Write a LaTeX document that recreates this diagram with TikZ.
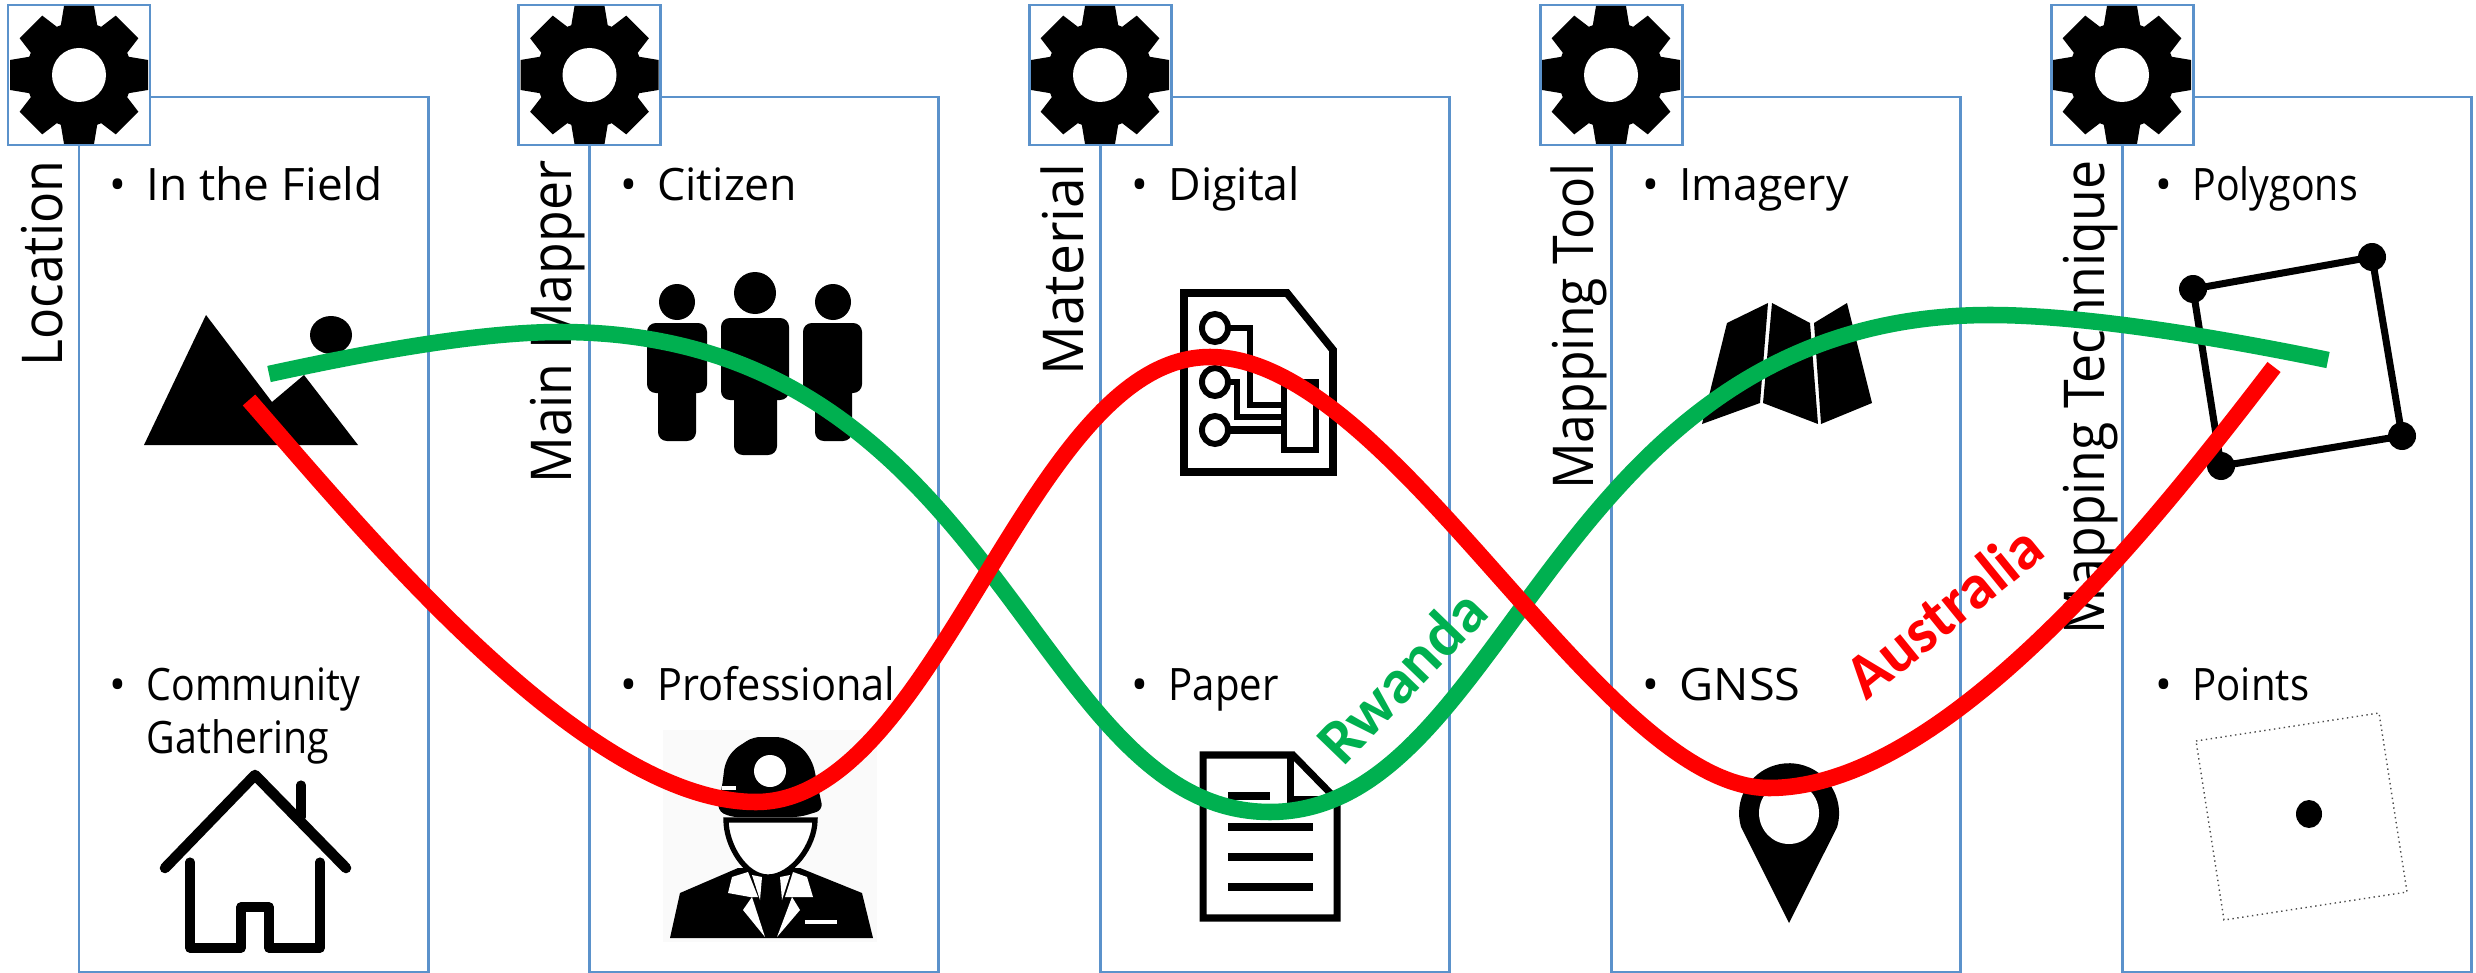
\documentclass[tikz,border=0pt]{standalone}
\usepackage{graphicx}
\usepackage{fontspec}
\setmainfont{Open Sans}
\newfontfamily\curvefont{Carlito}
\usepackage{xcolor}
\definecolor{frame_blue}{HTML}{5B92CB}
\definecolor{curve_red}{HTML}{FF0000}
\definecolor{curve_green}{HTML}{00B050}
\newcommand{\bulleted}[2]{\makebox[10.6pt][l]{\textbullet}\scalebox{#1}[1]{#2}}
\newcommand{\columnframe}[1]{%
	\begin{scope}[shift={(#1, 0)}]
		\draw[frame] (0, 97) rectangle (349, 972);
		\draw[frame, fill=white] (-71, 5) rectangle (71, 145);
		\foreach \ang in {0, 90, 180, 270} {
			\fill[rotate around={\ang:(0, 75)}] (-19, 30) -- (-15, 6) -- (15, 6) -- (19, 30) -- cycle;
		}
		\foreach \ang in {45, 135, 225, 315} {
			\fill[rotate around={\ang:(0, 75)}] (-19, 30) -- (-16, 7) -- (16, 7) -- (19, 30) -- cycle;
		}
		\fill (0, 75) circle[radius=53];
		\fill[white] (0, 75) circle[radius=27];
	\end{scope}}
\tikzset{
	frame/.style={draw=frame_blue, line width=0.85pt},
	itemlabel/.style={anchor=base west, inner sep=0pt, font=\fontsize{12.7}{15}\selectfont},
	sidelabel/.style={anchor=base east, rotate=90, inner sep=0pt, font=\fontsize{16}{19}\selectfont},
	curvelabel/.style={anchor=base west, inner sep=0pt, font=\curvefont\bfseries\fontsize{18}{21}\selectfont},
	thinicon/.style={line cap=round, line join=round},
	fatcurve/.style={line width=4.7pt},
}

\begin{document}
\begin{tikzpicture}[x=0.01cm, y=-0.01cm]
	\useasboundingbox (0, 0) rectangle (2476, 973);
	% columns
	\columnframe{79}
	\columnframe{589.5}
	\columnframe{1100}
	\columnframe{1611}
	\columnframe{2122}
	% side titles
	\node[sidelabel] (location) at (62, 160) {\scalebox{0.92}[1]{Location}};
	\node[sidelabel] (mainmapper) at (571, 160) {\scalebox{0.92}[1]{Main Mapper}};
	\node[sidelabel] (material) at (1083, 163) {\scalebox{0.98}[1]{Material}};
	\node[sidelabel] (mappingtool) at (1593, 163) {\scalebox{0.92}[1]{Mapping Tool}};
	\node[sidelabel] (mappingtechnique) at (2104, 160) {\scalebox{0.92}[1]{Mapping Technique}};
	% items
	\node[itemlabel] (field) at (108.5, 200) {\bulleted{1.03}{In the Field}};
	\node[itemlabel] (community) at (108.5, 700) {\bulleted{0.88}{Community}};
	\node[itemlabel] (gathering) at (146, 753) {\scalebox{0.88}[1]{Gathering}};
	\node[itemlabel] (citizen) at (619.5, 200) {\bulleted{1}{Citizen}};
	\node[itemlabel] (professional) at (619.5, 700) {\bulleted{0.93}{Professional}};
	\node[itemlabel] (digital) at (1130.5, 200) {\bulleted{1}{Digital}};
	\node[itemlabel] (paper) at (1130.5, 700) {\bulleted{0.9}{Paper}};
	\node[itemlabel] (imagery) at (1641.5, 200) {\bulleted{1}{Imagery}};
	\node[itemlabel] (gnss) at (1641.5, 700) {\bulleted{1.05}{GNSS}};
	\node[itemlabel] (polygons) at (2154.5, 200) {\bulleted{0.88}{Polygons}};
	\node[itemlabel] (points) at (2154.5, 700) {\bulleted{0.9}{Points}};
	% mountain
	\fill (206, 315) -- (272, 402) -- (304, 375) -- (358, 445) -- (144, 445) -- cycle;
	\fill (331, 335) ellipse[x radius=21, y radius=19];
	% house
	\draw[thinicon, line width=3pt] (165, 868) -- (255, 775) -- (346, 868);
	\draw[thinicon, line width=2.6pt] (301, 785) -- (301, 817);
	\draw[thinicon, line width=2.6pt] (190, 862) -- (190, 948) -- (241, 948) -- (241, 907) -- (269, 907) -- (269, 948) -- (320, 948) -- (320, 862);
	% people
	\fill (677, 302) circle[radius=18];
	\fill[rounded corners=2.5pt] (647, 323) rectangle (707, 393);
	\fill[rounded corners=2.5pt] (658, 380) rectangle (696, 441);
	\fill (755, 293) circle[radius=21];
	\fill[rounded corners=2.5pt] (721, 318) rectangle (789, 400);
	\fill[rounded corners=2.5pt] (734, 385) rectangle (777, 455);
	\fill (833, 302) circle[radius=18];
	\fill[rounded corners=2.5pt] (803, 323) rectangle (862, 393);
	\fill[rounded corners=2.5pt] (815, 380) rectangle (852, 441);
	% worker
	\fill[black!2] (663, 730) rectangle (877, 942);
	\fill (670, 938) -- (680, 893) -- (738, 868) -- (800, 868) -- (862, 893) -- (873, 938) -- cycle;
	\filldraw[fill=white, line width=1.5pt] (726, 820) .. controls (726, 845) and (745, 877) .. (768, 877) .. controls (792, 877) and (815, 845) .. (815, 820) -- cycle;
	\fill[rounded corners=2pt] (717, 810) -- (722, 787) -- (725, 763) -- (733, 750) -- (753, 737) -- (783, 737) -- (803, 748) -- (813, 763) -- (818, 787) -- (823, 810) -- (800, 817) -- (730, 817) -- cycle;
	\fill[white] (770, 771) circle[radius=16];
	\fill[white] (722, 786) rectangle (736, 790);
	\fill[white] (732, 877) -- (748, 872) -- (758, 897) -- (750, 897) -- (728, 893) -- cycle;
	\fill[white] (807, 877) -- (793, 872) -- (785, 897) -- (792, 897) -- (813, 897) -- cycle;
	\fill[white] (743, 910) -- (752, 897) -- (765, 937) -- cycle;
	\fill[white] (800, 910) -- (792, 897) -- (777, 937) -- cycle;
	\fill[white] (752, 875) -- (762, 877) -- (760, 900) -- cycle;
	\fill[white] (780, 877) -- (790, 875) -- (782, 900) -- cycle;
	\fill[white] (805, 920) rectangle (837, 924);
	% circuit sheet
	\draw[line width=2.2pt] (1184, 293) -- (1287, 293) -- (1333, 350) -- (1333, 472) -- (1184, 472) -- cycle;
	\draw[line width=1.7pt] (1215, 328) ellipse[x radius=13, y radius=14];
	\draw[line width=1.7pt] (1215, 382) ellipse[x radius=13, y radius=14];
	\draw[line width=1.7pt] (1215, 430) ellipse[x radius=13, y radius=14];
	\draw[line width=1.7pt] (1228, 328) -- (1250, 328) -- (1250, 405) -- (1284, 405);
	\draw[line width=1.7pt] (1228, 382) -- (1237, 382) -- (1237, 417) -- (1284, 417);
	\draw[line width=2pt] (1228, 430) -- (1284, 430);
	\draw[line width=1.7pt] (1284, 382) -- (1316, 382) -- (1316, 450) -- (1284, 450) -- cycle;
	% folded map
	\fill (1727, 323) -- (1768, 303) -- (1760, 403) -- (1702, 424) -- cycle;
	\fill (1772, 303) -- (1810, 323) -- (1818, 424) -- (1763, 403) -- cycle;
	\fill (1814, 323) -- (1847, 303) -- (1872, 403) -- (1821, 424) -- cycle;
	% text sheet
	\draw[line width=2pt] (1203, 755) -- (1293, 755) -- (1337, 800) -- (1337, 918) -- (1203, 918) -- cycle;
	\draw[line width=2pt] (1290, 755) -- (1290, 800) -- (1337, 800);
	\draw[line width=2pt] (1228, 796) -- (1270, 796);
	\draw[line width=2pt] (1228, 827) -- (1313, 827);
	\draw[line width=2pt] (1228, 857) -- (1313, 857);
	\draw[line width=2pt] (1228, 887) -- (1313, 887);
	% pin
	\fill (1789, 923) -- (1741, 827) arc[start angle=164, end angle=376, radius=50] -- cycle;
	\fill[white] (1789, 813) ellipse[x radius=30, y radius=31];
	% polygon
	\draw[line width=2pt] (2193, 289) -- (2372, 257) -- (2402, 436) -- (2221, 466) -- cycle;
	\fill (2193, 289) circle[radius=14];
	\fill (2372, 257) circle[radius=14];
	\fill (2402, 436) circle[radius=14];
	\fill (2221, 466) circle[radius=14];
	% point
	\draw[black!70, line width=0.4pt, densely dotted] (2196, 741) -- (2379, 713) -- (2407, 892) -- (2224, 920) -- cycle;
	\fill (2309, 814) ellipse[x radius=13, y radius=14];
	% curves
	\coordinate (G0) at (269, 374);
	\coordinate (G1) at (560, 332);
	\coordinate (G2) at (1270, 812);
	\coordinate (G3) at (1990, 315);
	\coordinate (G4) at (2328, 360);
	\draw[fatcurve, curve_green] (G0) .. controls (370, 352) and (480, 332) .. (G1)
		.. controls (1000, 332) and (1030, 812) .. (G2)
		.. controls (1510, 812) and (1550, 315) .. (G3)
		.. controls (2090, 315) and (2230, 340) .. (G4);
	\coordinate (R0) at (249, 400);
	\coordinate (R1) at (756, 802);
	\coordinate (R2) at (1210, 357);
	\coordinate (R3) at (1769, 788);
	\coordinate (R4) at (2274, 367);
	\draw[fatcurve, curve_red] (R0) .. controls (367, 535) and (586, 802) .. (R1)
		.. controls (938, 802) and (1028, 357) .. (R2)
		.. controls (1394, 357) and (1601, 788) .. (R3)
		.. controls (1949, 788) and (2161, 514) .. (R4);
	\node[curvelabel, curve_green, rotate=46] (rwanda) at (1343, 768) {Rwanda};
	\node[curvelabel, curve_red, rotate=39] (australia) at (1866, 702) {Australia};
\end{tikzpicture}
\end{document}
